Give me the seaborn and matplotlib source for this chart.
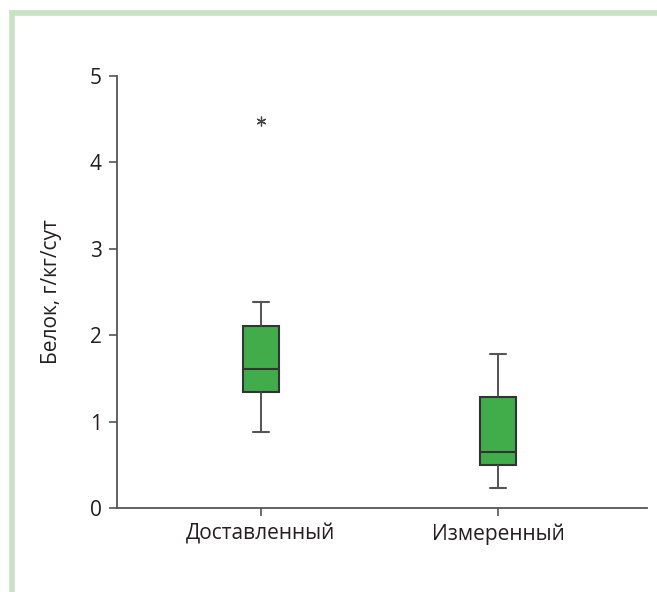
import numpy as np
import matplotlib
matplotlib.use("Agg")
import matplotlib.pyplot as plt
import seaborn as sns
from matplotlib.lines import Line2D

sns.set_theme(style="white")
plt.rcParams["font.family"] = ["Open Sans", "DejaVu Sans"]

# box summary values
groups = ["Доставленный", "Измеренный"]
whisker_low = [0.88, 0.23]
q1 = [1.34, 0.50]
median = [1.61, 0.65]
q3 = [2.11, 1.28]
whisker_high = [2.38, 1.78]
outliers = [[4.48], []]

stats = []
for i, name in enumerate(groups):
    stats.append({
        "label": name,
        "whislo": whisker_low[i],
        "q1": q1[i],
        "med": median[i],
        "q3": q3[i],
        "whishi": whisker_high[i],
        "fliers": np.array(outliers[i]),
    })

fig = plt.figure(figsize=(6.57, 5.92), dpi=100)
ax = fig.add_axes([0.178, 0.142, 0.807, 0.730])

edge = "#333333"
ax.bxp(
    stats,
    positions=[0, 1],
    widths=0.15,
    capwidths=0.07,
    patch_artist=True,
    boxprops={"facecolor": "#40ad4a", "edgecolor": edge, "linewidth": 1.5},
    medianprops={"color": edge, "linewidth": 1.5},
    whiskerprops={"color": "#444444", "linewidth": 1.3},
    capprops={"color": "#555555", "linewidth": 1.5},
    flierprops={"marker": (6, 2, 0), "markersize": 7, "markeredgecolor": "#444444",
                "markeredgewidth": 0.9, "linestyle": "none"},
)

ax.set_xlim(-0.608, 1.629)
ax.set_ylim(0, 5)
ax.set_yticks([0, 1, 2, 3, 4, 5])
ax.set_xticks([0, 1])
ax.set_xticklabels(groups)
ax.set_ylabel("Белок, г/кг/сут", fontsize=15, color="#231f20", labelpad=20)

sns.despine(ax=ax)
for side in ["left", "bottom"]:
    ax.spines[side].set_color("#555555")
    ax.spines[side].set_linewidth(1.3)
ax.tick_params(axis="both", which="major", direction="out", length=6, width=1.2,
               color="#555555", labelsize=15, labelcolor="#231f20", pad=5,
               left=True, bottom=True)
ax.grid(False)

# light green frame (top and left edges)
frame_color = "#c8e2c3"
fig.add_artist(Line2D([12 / 657, 12 / 657], [0, 1 - 10 / 592], transform=fig.transFigure,
                      color=frame_color, linewidth=4, solid_capstyle="butt"))
fig.add_artist(Line2D([10 / 657, 1], [1 - 12.5 / 592, 1 - 12.5 / 592], transform=fig.transFigure,
                      color=frame_color, linewidth=4, solid_capstyle="butt"))

fig.savefig("out.png", dpi=100)
